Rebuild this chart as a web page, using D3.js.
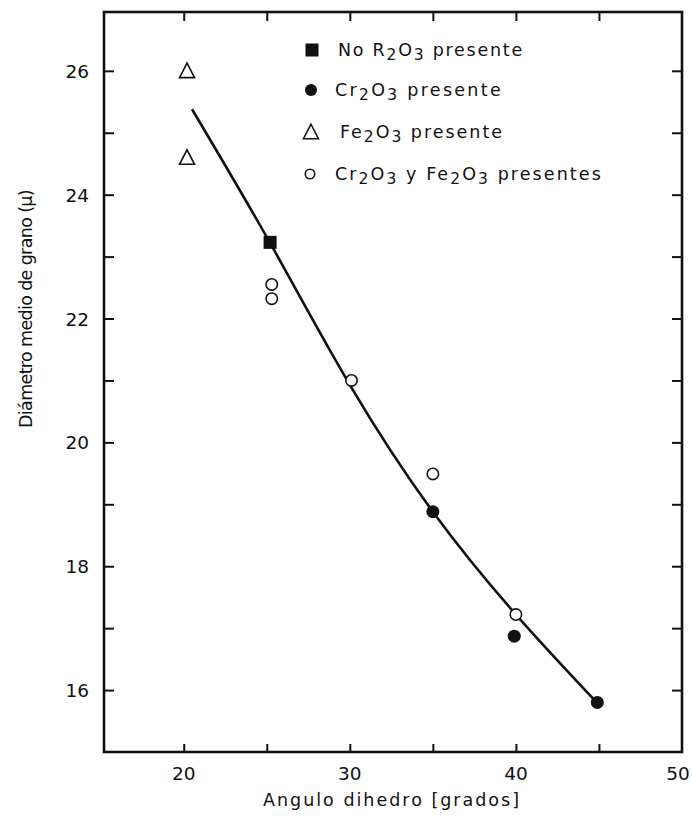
<!DOCTYPE html>
<html>
<head>
<meta charset="utf-8">
<script src="https://cdn.jsdelivr.net/npm/d3@7/dist/d3.min.js"></script>
<style>
  html, body { margin: 0; padding: 0; background: #fff; }
  svg { display: block; }
  text { font-family: "DejaVu Sans", "Liberation Sans", sans-serif; fill: #111; }
</style>
</head>
<body>
<svg id="chart" width="692" height="817"></svg>
<script>
// ---- data ----
const xTicksLabeled = [20, 30, 40, 50];
const xTicksMinor = [20, 25, 30, 35, 40, 45];
const yTicks = [16, 18, 20, 22, 24, 26];
const yTicksMinor = [16, 17, 18, 19, 20, 21, 22, 23, 24, 25, 26];

// No R2O3 presente (filled square)
const noneX = [25.2];
const noneY = [23.23];
// Cr2O3 presente (filled circle)
const crX = [35.0, 39.9, 44.9];
const crY = [18.88, 16.87, 15.8];
// Fe2O3 presente (open triangle)
const feX = [20.2, 20.2];
const feY = [26.0, 24.6];
// Cr2O3 y Fe2O3 presentes (open circle)
const bothX = [25.3, 25.3, 30.1, 35.0, 40.0];
const bothY = [22.55, 22.32, 21.0, 19.49, 17.22];
// fitted curve
const curveX = [20.5, 25.2, 30.0, 35.0, 40.0, 44.8];
const curveY = [25.38, 23.22, 20.93, 18.88, 17.22, 15.82];

const legendLabels = [
  [["No R", 0], ["2", 1], ["O", 0], ["3", 1], [" presente", 0]],
  [["Cr", 0], ["2", 1], ["O", 0], ["3", 1], [" presente", 0]],
  [["Fe", 0], ["2", 1], ["O", 0], ["3", 1], [" presente", 0]],
  [["Cr", 0], ["2", 1], ["O", 0], ["3", 1], [" y Fe", 0], ["2", 1], ["O", 0], ["3", 1], [" presentes", 0]]
];
const legendKinds = ["square", "dot", "triangle", "circle"];

// ---- drawing ----
const svg = d3.select("#chart");
const x = d3.scaleLinear().domain([15.2, 50]).range([104, 682]);
const y = d3.scaleLinear().domain([15, 26.95]).range([752, 12]);

const ink = "#111";

// frame
svg.append("rect")
  .attr("x", x(15.2)).attr("y", y(26.95))
  .attr("width", x(50) - x(15.2)).attr("height", y(15) - y(26.95))
  .attr("fill", "none").attr("stroke", ink).attr("stroke-width", 2.6);

// axes with inward ticks
const gBottom = svg.append("g").attr("transform", `translate(0,${y(15)})`)
  .call(d3.axisBottom(x).tickValues(xTicksMinor).tickSize(-8).tickFormat(""));
const gTop = svg.append("g").attr("transform", `translate(0,${y(26.95)})`)
  .call(d3.axisTop(x).tickValues(xTicksMinor).tickSize(-9).tickFormat(""));
const gLeft = svg.append("g").attr("transform", `translate(${x(15.2)},0)`)
  .call(d3.axisLeft(y).tickValues(yTicksMinor).tickSize(-10).tickFormat(""));
const gRight = svg.append("g").attr("transform", `translate(${x(50)},0)`)
  .call(d3.axisRight(y).tickValues(yTicksMinor).tickSize(-10).tickFormat(""));
[gBottom, gTop, gLeft, gRight].forEach(g => {
  g.select(".domain").remove();
  g.selectAll(".tick line").attr("stroke", ink).attr("stroke-width", 2);
});

// tick labels
svg.append("g").selectAll("text").data(xTicksLabeled).join("text")
  .attr("x", d => Math.min(x(d), 678)).attr("y", 780)
  .attr("text-anchor", "middle")
  .attr("font-size", 18.5)
  .text(d => d);
svg.append("g").selectAll("text").data(yTicks).join("text")
  .attr("x", 89).attr("y", d => y(d) + 7)
  .attr("text-anchor", "end")
  .attr("font-size", 18.5)
  .text(d => d);

// axis titles
function fitText(sel, target) {
  const n = sel.text().length;
  const w = sel.node().getComputedTextLength();
  sel.attr("letter-spacing", ((target - w) / n).toFixed(2));
}
const xt = svg.append("text")
  .attr("x", 392).attr("y", 806)
  .attr("text-anchor", "middle")
  .attr("font-size", 17.5)
  .text("Angulo dihedro [grados]");
fitText(xt, 258);
const yt = svg.append("text")
  .attr("transform", "translate(32,309) rotate(-90)")
  .attr("text-anchor", "middle")
  .attr("font-size", 17.5)
  .text("Diámetro medio de grano (μ)");
fitText(yt, 238);

// curve
const line = d3.line().x(d => x(d[0])).y(d => y(d[1])).curve(d3.curveNatural);
svg.append("path")
  .datum(d3.zip(curveX, curveY))
  .attr("d", line)
  .attr("fill", "none").attr("stroke", ink).attr("stroke-width", 2.6);

// markers
function drawMarker(g, kind, cx, cy, s) {
  if (kind === "square") {
    g.append("rect").attr("x", cx - s / 2).attr("y", cy - s / 2)
      .attr("width", s).attr("height", s).attr("fill", ink);
  } else if (kind === "dot") {
    g.append("circle").attr("cx", cx).attr("cy", cy).attr("r", s / 2).attr("fill", ink);
  } else if (kind === "circle") {
    g.append("circle").attr("cx", cx).attr("cy", cy).attr("r", s / 2 - 0.8)
      .attr("fill", "#fff").attr("stroke", ink).attr("stroke-width", 1.6);
  } else if (kind === "triangle") {
    const h = s * 0.9;
    g.append("path")
      .attr("d", `M${cx},${cy - h / 2 - 1}L${cx + s / 2},${cy + h / 2}L${cx - s / 2},${cy + h / 2}Z`)
      .attr("fill", "#fff").attr("stroke", ink).attr("stroke-width", 1.6).attr("stroke-linejoin", "miter");
  }
}
const gm = svg.append("g");
d3.zip(bothX, bothY).forEach(d => drawMarker(gm, "circle", x(d[0]), y(d[1]), 13));
d3.zip(crX, crY).forEach(d => drawMarker(gm, "dot", x(d[0]), y(d[1]), 13));
d3.zip(feX, feY).forEach(d => drawMarker(gm, "triangle", x(d[0]), y(d[1]), 15));
d3.zip(noneX, noneY).forEach(d => drawMarker(gm, "square", x(d[0]), y(d[1]), 13));

// legend
const legRowY = [50, 90, 132, 174];
const legTextX = [338, 335, 340, 335];
const legTextW = [186, 168, 164, 268];
const legMarkX = [312, 311, 311, 310];
const legMarkS = [13, 12, 15, 11];
const gl = svg.append("g");
legendKinds.forEach((k, i) => {
  drawMarker(gl, k, legMarkX[i], legRowY[i], legMarkS[i]);
  const t = gl.append("text")
    .attr("x", legTextX[i]).attr("y", legRowY[i] + 6)
    .attr("font-size", 17.5);
  legendLabels[i].forEach(([s, sub]) => {
    t.append("tspan")
      .attr("dy", sub ? 4 : 0)
      .attr("font-size", sub ? 15.5 : 17.5)
      .text(s)
      .call(ts => { if (sub) ts.attr("data-sub", 1); });
  });
  t.selectAll("tspan").each(function(d, j, nodes) {
    const isSub = this.getAttribute("data-sub");
    const prevSub = j > 0 && nodes[j - 1].getAttribute("data-sub");
    if (!isSub && prevSub) this.setAttribute("dy", -4);
  });
  const total = legendLabels[i].map(p => p[0]).join("").length;
  const w = t.node().getComputedTextLength();
  t.attr("letter-spacing", ((legTextW[i] - w) / total).toFixed(2));
});
</script>
</body>
</html>
